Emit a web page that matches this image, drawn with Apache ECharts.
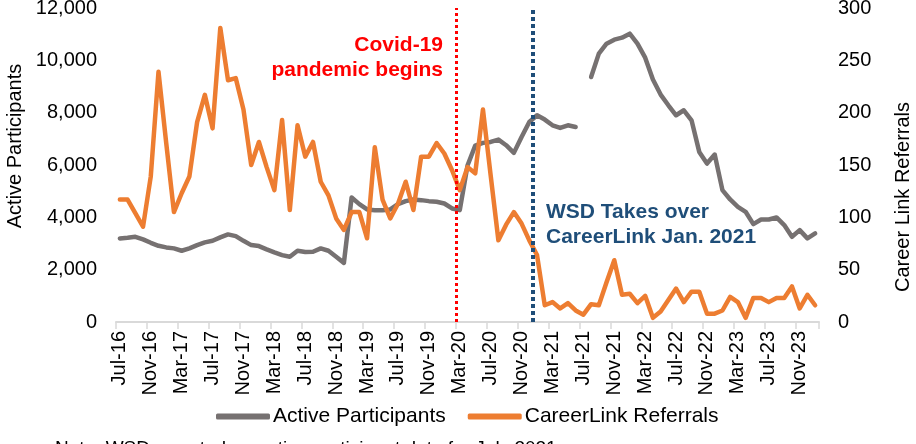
<!DOCTYPE html>
<html>
<head>
<meta charset="utf-8">
<script src="https://cdn.jsdelivr.net/npm/echarts@6/dist/echarts.min.js"></script>
<style>
html,body{margin:0;padding:0;background:#fff;}
#chart{width:916px;height:444px;}
</style>
</head>
<body>
<div id="chart"></div>
<script>
// Months Jul-16 .. Jan-24
const monthNames = ['Jan','Feb','Mar','Apr','May','Jun','Jul','Aug','Sep','Oct','Nov','Dec'];
const categories = [];
for (let k = 0; k < 91; k++) {
  const m = (6 + k) % 12;
  const y = 16 + Math.floor((6 + k) / 12);
  categories.push(monthNames[m] + '-' + y);
}

const activeParticipants = [
  3195, 3218, 3256, 3157, 3027, 2912, 2851, 2813, 2722, 2813,
  2939, 3042, 3103, 3233, 3348, 3283, 3103, 2939, 2901, 2775,
  2660, 2557, 2493, 2722, 2672, 2684, 2813, 2722, 2493, 2260,
  4760, 4504, 4301, 4275, 4275, 4301, 4504, 4619, 4683, 4657,
  4619, 4593, 4529, 4339, 4275, 5980, 6740, 6845, 6883, 6972,
  6756, 6463, 7073, 7646, 7901, 7736, 7519, 7417, 7519, 7455,
  null, 9363, 10256, 10638, 10791, 10867, 11020, 10638, 10103, 9264,
  8691, 8283, 7901, 8092, 7710, 6501, 6057, 6400, 5039, 4683,
  4402, 4211, 3741, 3919, 3919, 3995, 3703, 3256, 3512, 3195,
  3386
];

const careerLinkReferrals = [
  117, 117, 104, 91, 139, 239, 171, 105, 123, 139,
  191, 217, 185, 281, 231, 233, 203, 150, 172, 148,
  126, 193, 107, 188, 158, 172, 134, 121, 99, 88,
  105, 105, 80, 167, 117, 99, 113, 134, 107, 158,
  158, 171, 161, 145, 126, 148, 142, 203, 140, 78,
  93, 105, 94, 78, 64, 16, 19, 13, 18, 11,
  7, 17, 16, 38, 59, 26, 27, 18, 25, 4,
  10, 21, 32, 19, 29, 29, 8, 8, 11, 24,
  19, 4, 23, 23, 19, 23, 23, 34, 13, 26,
  16
];

const leftTicks = { min: 0, max: 12000, interval: 2000 };
const rightTicks = { min: 0, max: 300, interval: 50 };
const covidIndex = 44;   // Mar-20 boundary
const wsdIndex = 54;     // Jan-21 boundary

const FONT = "'Liberation Sans', Arial, sans-serif";
const chart = echarts.init(document.getElementById('chart'), null, { renderer: 'canvas' });

chart.setOption({
  animation: false,
  textStyle: { fontFamily: FONT },
  grid: { left: 116, right: 97, top: 8, bottom: 122, containLabel: false, outerBoundsMode: 'none' },
  legend: {
    data: ['Active Participants', 'CareerLink Referrals'],
    left: 211, top: 401,
    icon: 'roundRect', itemWidth: 54, itemHeight: 6, itemGap: 22,
    textStyle: { fontSize: 21, color: '#000', fontFamily: FONT, padding: [0, 0, 0, -2] }
  },
  xAxis: [
    {
      type: 'category', data: categories, boundaryGap: true,
      axisLine: { show: true, lineStyle: { color: '#d9d9d9', width: 2 } },
      axisTick: { show: true, interval: 3, length: 7, lineStyle: { color: '#d9d9d9', width: 1.5 } },
      axisLabel: { interval: 3, rotate: 90, fontSize: 20, color: '#000', margin: 9, fontFamily: FONT },
      splitLine: { show: false }
    },
    { type: 'value', min: 0, max: 91, show: false }
  ],
  yAxis: [
    {
      type: 'value', min: leftTicks.min, max: leftTicks.max, interval: leftTicks.interval,
      axisLine: { show: false }, axisTick: { show: false }, splitLine: { show: false },
      axisLabel: { fontSize: 20, color: '#000', margin: 19, fontFamily: FONT,
        formatter: v => v.toLocaleString('en-US') }
    },
    {
      type: 'value', min: rightTicks.min, max: rightTicks.max, interval: rightTicks.interval,
      position: 'right',
      axisLine: { show: false }, axisTick: { show: false }, splitLine: { show: false },
      axisLabel: { fontSize: 20, color: '#000', margin: 19, fontFamily: FONT }
    }
  ],
  series: [
    {
      name: 'Active Participants', type: 'line', data: activeParticipants,
      xAxisIndex: 0, yAxisIndex: 0, symbol: 'none', connectNulls: false,
      itemStyle: { color: '#767171' },
      lineStyle: { color: '#767171', width: 4.5, cap: 'round', join: 'round' }
    },
    {
      name: 'CareerLink Referrals', type: 'line', data: careerLinkReferrals,
      xAxisIndex: 0, yAxisIndex: 1, symbol: 'none',
      itemStyle: { color: '#ED7D31' },
      lineStyle: { color: '#ED7D31', width: 4.5, cap: 'round', join: 'round' }
    },
    {
      name: 'events', type: 'line', data: [], xAxisIndex: 1, yAxisIndex: 0,
      symbol: 'none', silent: true,
      markLine: {
        symbol: 'none', silent: true, label: { show: false },
        data: [
          { xAxis: covidIndex, lineStyle: { color: '#FF0000', width: 3, type: [3, 3] } },
          { xAxis: wsdIndex, lineStyle: { color: '#1F4E79', width: 4, type: [4, 3] } }
        ]
      }
    }
  ],
  graphic: [
    { type: 'text', x: 15, y: 146, rotation: Math.PI / 2,
      style: { text: 'Active Participants', fontSize: 20, fill: '#000', fontFamily: FONT, align: 'center', verticalAlign: 'middle' } },
    { type: 'text', x: 903, y: 197, rotation: Math.PI / 2,
      style: { text: 'Career Link Referrals', fontSize: 20, fill: '#000', fontFamily: FONT, align: 'center', verticalAlign: 'middle' } },
    { type: 'text', x: 443, y: 45,
      style: { text: 'Covid-19', fontSize: 21, fontWeight: 'bold', fill: '#FF0000', fontFamily: FONT, align: 'right', verticalAlign: 'middle' } },
    { type: 'text', x: 443, y: 70,
      style: { text: 'pandemic begins', fontSize: 21, fontWeight: 'bold', fill: '#FF0000', fontFamily: FONT, align: 'right', verticalAlign: 'middle' } },
    { type: 'text', x: 546, y: 212,
      style: { text: 'WSD Takes over', fontSize: 21, fontWeight: 'bold', fill: '#1F4E79', fontFamily: FONT, align: 'left', verticalAlign: 'middle' } },
    { type: 'text', x: 546, y: 237,
      style: { text: 'CareerLink Jan. 2021', fontSize: 21, fontWeight: 'bold', fill: '#1F4E79', fontFamily: FONT, align: 'left', verticalAlign: 'middle' } },
    { type: 'text', x: 55, y: 439,
      style: { text: 'Note: WSD reported no active participant data for July 2021', fontSize: 19, fill: '#000', fontFamily: FONT, align: 'left', verticalAlign: 'top' } }
  ]
});
</script>
</body>
</html>
